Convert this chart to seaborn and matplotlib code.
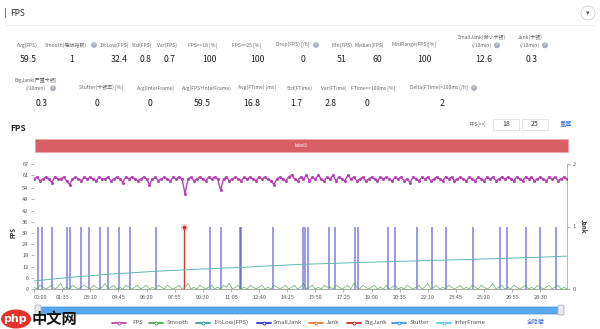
import numpy as np
import pandas as pd
import matplotlib
matplotlib.use("Agg")
import matplotlib.pyplot as plt
import seaborn as sns
from matplotlib.patches import Rectangle, FancyBboxPatch, Ellipse
from matplotlib.lines import Line2D

# ---------------- data ----------------
row1_labels = ["Avg(FPS)", "Smooth(稳帧指数)", "1%Low(FPS)", "Std(FPS)", "Var(FPS)",
               "FPS>=18 [%]", "FPS>=25 [%]", "Drop(FPS) [/h]", "Min(FPS)", "Median(FPS)",
               "MedRange(FPS)[%]", "SmallJank(微小卡顿)\n(/10min)", "Jank(卡顿)\n(/10min)"]
row1_values = ["59.5", "1", "32.4", "0.8", "0.7", "100", "100", "0", "51", "60", "100", "12.6", "0.3"]

row2_labels = ["BigJank(严重卡顿)\n(/10min)", "Stutter(卡顿率) [%]", "Avg(InterFrame)",
               "Avg(FPS+InterFrame)", "Avg(FTime) [ms]", "Std(FTime)", "Var(FTime)",
               "FTime>=100ms [%]", "Delta(FTime)>100ms [/h]"]
row2_values = ["0.3", "0", "0", "59.5", "16.8", "1.7", "2.8", "0", "2"]

fps_values = [
    59, 60, 58, 59, 60, 59, 57, 60, 59, 59, 60, 58, 56, 59, 60, 59, 58, 60, 59, 60,
    59, 58, 60, 59, 59, 60, 58, 59, 60, 59, 57, 60, 59, 60, 59, 58, 59, 60, 59, 56,
    59, 60, 58, 59, 60, 59, 58, 60, 59, 60, 59, 51, 59, 60, 58, 59, 60, 59, 58, 60,
    59, 60, 59, 53, 59, 60, 58, 59, 60, 59, 58, 60, 59, 60, 59, 58, 60, 59, 60, 59,
    58, 56, 59, 60, 59, 58, 60, 61, 59, 58, 60, 59, 61, 58, 60, 59, 61, 59, 58, 60,
    59, 61, 58, 60, 59, 58, 61, 59, 60, 58, 59, 60, 58, 59, 60, 59, 58, 60, 59, 60,
    59, 58, 60, 59, 60, 58, 59, 57, 60, 59, 58, 60, 59, 60, 58, 59, 60, 59, 58, 60,
    59, 60, 58, 59, 60, 59, 58, 60, 59, 58, 60, 59, 58, 60, 59, 60, 58, 59, 60, 59,
    60, 59, 58, 60, 59, 58, 60, 59, 60, 58, 59, 60, 59, 58, 60, 59, 60, 58, 59, 60, 59,
]
fps_time = list(range(0, 1810, 10))

smooth_values = [
    1, 0, 2, 1, 0, 1, 2, 0, 1, 3, 0, 1, 0, 2, 1, 0, 1, 2, 1, 0,
    2, 1, 0, 1, 3, 0, 1, 2, 0, 1, 0, 2, 1, 0, 1, 2, 0, 1, 2, 0,
    1, 0, 2, 1, 0, 2, 1, 0, 1, 2, 0, 1, 3, 0, 1, 0, 2, 1, 0, 1,
    2, 0, 1, 0, 2, 1, 3, 0, 1, 2, 0, 1, 0, 2, 1, 0, 1, 2, 0, 1,
    0, 2, 1, 0, 1, 2, 0, 1, 2, 0, 1, 3, 0, 1, 2, 0, 1, 0, 2, 1,
    1, 0, 2, 1, 0, 1, 2, 0, 3, 1, 0, 2, 1, 0, 1, 2, 0, 1, 0, 2,
    0, 1, 2, 0, 1, 0, 2, 1, 0, 1, 2, 0, 1, 3, 0, 1, 2, 0, 1, 0,
    2, 1, 0, 1, 2, 0, 1, 0, 2, 1, 0, 2, 1, 0, 1, 3, 0, 1, 2, 0,
    1, 0, 2, 1, 0, 1, 2, 0, 1, 0, 2, 1, 0, 1, 2, 0, 1, 2, 0, 1, 0,
]

lowpct_time = [0, 60, 150, 250, 400, 550, 700, 900, 1100, 1300, 1500, 1700, 1800]
lowpct_values = [4.3, 5.3, 6.6, 7.9, 9.4, 10.6, 11.6, 13.2, 14.2, 15.1, 16.0, 17.0, 17.6]

smalljank_time = [13, 28, 61, 112, 120, 158, 187, 223, 249, 288, 325, 411, 595, 633,
                  694, 699, 806, 910, 915, 926, 996, 1017, 1084, 1095, 1196, 1219,
                  1292, 1343, 1393, 1481, 1573, 1597, 1663, 1708, 1762]
smalljank_values = [1] * len(smalljank_time)

bigjank_time = [507]
bigjank_values = [1]

jank_time = [0, 1800]
jank_values = [0, 0]

xtick_secs = [0, 95, 190, 285, 380, 475, 570, 665, 760, 855, 950, 1045, 1140, 1235,
              1330, 1425, 1520, 1615, 1710]
xtick_labels = ["00:00", "01:35", "03:10", "04:45", "06:20", "07:55", "09:30", "11:05",
                "12:40", "14:15", "15:50", "17:25", "19:00", "20:35", "22:10", "23:45",
                "25:20", "26:55", "28:30"]
ytick_vals = [0, 6, 12, 18, 24, 30, 36, 42, 48, 54, 61, 67]

legend_names = ["FPS", "Smooth", "1%Low(FPS)", "SmallJank", "Jank", "BigJank", "Stutter", "InterFrame"]
legend_colors = ["#b443b4", "#4fa64f", "#3f9f9a", "#3434cc", "#ee7d2c", "#c8332c", "#3f8ef0", "#5cc6df"]

# ---------------- figure ----------------
sns.set_theme(style="white")
plt.rcParams['font.family'] = ['Noto Sans CJK SC', 'DejaVu Sans']

W, H = 600, 329
fig = plt.figure(figsize=(6, 3.29), dpi=100)
fig.patch.set_facecolor("white")


def fx(px):
    return px / W


def fy(py):
    return 1 - py / H


def ftext(x, y, s, **kw):
    kw.setdefault("ha", "center")
    kw.setdefault("va", "center")
    return fig.text(fx(x), fy(y), s, **kw)


def qicon(x, y):
    fig.text(fx(x), fy(y), "?", fontsize=2.6, color="white", ha="center", va="center",
             fontweight="bold",
             bbox=dict(boxstyle="circle,pad=0.25", fc="#a7afbf", ec="none"))


def label(x, y, s, gap):
    lines = s.split("\n")
    if len(lines) == 1:
        ftext(x, y, s, fontsize=3.6, color="#666")
    else:
        ftext(x, y - gap, lines[0], fontsize=3.6, color="#666")
        ftext(x, y, lines[1], fontsize=3.6, color="#666")


# header
fig.patches.append(Rectangle((fx(5), fy(18)), fx(1.4), fy(8) - fy(18), transform=fig.transFigure,
                             fc="#3a7bea", ec="none"))
ftext(10, 13, "FPS", ha="left", fontsize=6, color="#333")
fig.add_artist(Line2D([fx(5), fx(595)], [fy(25), fy(25)], color="#e6e8ec", lw=0.6))
fig.patches.append(Ellipse((fx(588), fy(13)), fx(14), 14 / H, transform=fig.transFigure,
                           fc="white", ec="#c8ccd4", lw=0.6))
ftext(588, 13, "▾", fontsize=5, color="#555")

# stats row 1
lab1_x = [27, 66, 114, 142, 167, 203, 247, 293, 342, 369, 414, 482, 530]
val1_x = [28, 72, 119, 146, 170, 209, 257, 303, 342, 377, 424, 484, 532]
for lab, x in zip(row1_labels, lab1_x):
    label(x, 45, lab, 8)
for val, x in zip(row1_values, val1_x):
    ftext(x, 60, val, fontsize=6.3, color="#222", fontweight="medium")
for x, y in [(94, 45), (316, 45), (497, 45.3), (545, 45.3)]:
    qicon(x, y)

# stats row 2
lab2_x = [36, 101, 156, 207, 257, 300, 334, 373, 439]
val2_x = [42, 97, 150, 202, 252, 296, 331, 367, 442]
for lab, x in zip(row2_labels, lab2_x):
    label(x, 88, lab, 7.5)
for val, x in zip(row2_values, val2_x):
    ftext(x, 103, val, fontsize=6.3, color="#222", fontweight="medium")
for x, y in [(53, 88.3), (474, 88)]:
    qicon(x, y)

# chart header
ftext(10, 128, "FPS", ha="left", fontsize=6, color="#222", fontweight="bold")
ftext(470, 124, "FPS(>=)", ha="left", fontsize=3.4, color="#555")
for x0, x1, s in [(493, 519, "18"), (522, 548, "25")]:
    fig.patches.append(Rectangle((fx(x0), fy(130)), fx(x1 - x0), fy(119) - fy(130),
                                 transform=fig.transFigure, fc="white", ec="#d6d9de", lw=0.5))
    ftext((x0 + x1) / 2, 124.5, s, fontsize=5, color="#333")
ftext(560, 124, "重置", ha="left", fontsize=4.5, color="#3a6fd8")

# red label band
fig.patches.append(Rectangle((fx(35), fy(152)), fx(568 - 35), fy(139) - fy(152),
                             transform=fig.transFigure, fc="#d95f67", ec="#e8a0a5", lw=0.4))
ftext(301, 145.5, "label1", fontsize=3.4, color="white")

# main plot
ax = fig.add_axes([fx(34), fy(289), fx(567) - fx(34), fy(164) - fy(289)])
ax2 = ax.twinx()

df_fps = pd.DataFrame({"t": fps_time, "fps": fps_values, "smooth": smooth_values})
df_low = pd.DataFrame({"t": lowpct_time, "v": lowpct_values})
df_jank = pd.DataFrame({"t": jank_time, "v": jank_values})

sns.lineplot(data=df_fps, x="t", y="smooth", ax=ax, color=legend_colors[1], lw=0.6, alpha=0.75)
sns.lineplot(data=df_low, x="t", y="v", ax=ax, color="#62b5b2", lw=0.7)

ax2.vlines(smalljank_time, 0, smalljank_values, color="#4848da", lw=1.1, alpha=0.7)
ax2.vlines(bigjank_time, 0, bigjank_values, color="#d23a30", lw=1.0)
ax2.scatter(bigjank_time, bigjank_values, s=28, color="#e05050", alpha=0.3, lw=0, zorder=5)
ax2.scatter(bigjank_time, bigjank_values, s=6, color="#d02a20", lw=0, zorder=6)
sns.lineplot(data=df_jank, x="t", y="v", ax=ax2, color="#c86a30", lw=0.8)

sns.lineplot(data=df_fps, x="t", y="fps", ax=ax, color=legend_colors[0], lw=1.0,
             marker="o", markersize=2.2, markeredgewidth=0)

ax.set_zorder(ax2.get_zorder() + 1)
ax.patch.set_visible(False)

ax.set_xlim(0, 1800)
ax.set_ylim(0, 67)
ax2.set_ylim(0, 2)
ax.set_xlabel("")
ax.set_ylabel("")
ax2.set_xlabel("")
ax2.set_ylabel("")
ax.set_xticks(xtick_secs)
ax.set_xticklabels(xtick_labels)
ax.get_xticklabels()[0].set_horizontalalignment("left")
ax.set_yticks(ytick_vals)
ax.set_yticklabels([str(v) for v in ytick_vals])
ax2.set_yticks([0, 1, 2])
ax.tick_params(axis="both", labelsize=4, colors="#999", labelcolor="#555", length=2.5, width=0.5, pad=1.5,
               left=True, bottom=True)
ax2.tick_params(axis="y", labelsize=4, colors="#999", labelcolor="#555", length=2.5, width=0.5, pad=1.5,
                right=True)
for s in ["top", "left", "right"]:
    ax.spines[s].set_visible(False)
ax.spines["bottom"].set_color("#999")
ax.spines["bottom"].set_linewidth(0.6)
for s in ["top", "left", "bottom"]:
    ax2.spines[s].set_visible(False)
ax2.spines["right"].set_color("#aaa")
ax2.spines["right"].set_linewidth(0.6)

ftext(13, 232, "FPS", rotation=90, fontsize=4.3, color="#333", fontweight="bold")
ftext(583, 226, "Jank", rotation=270, fontsize=4.3, color="#333", fontweight="bold")

# slider
fig.patches.append(FancyBboxPatch((fx(37), fy(314)), fx(562 - 37), fy(307) - fy(314),
                                  boxstyle="round,pad=0,rounding_size=0.004",
                                  transform=fig.transFigure, fc="#5aa9ee", ec="#3f8fe0", lw=0.5))
for hx in [38, 561]:
    fig.patches.append(FancyBboxPatch((fx(hx - 3), fy(315)), fx(6), fy(305) - fy(315),
                                      boxstyle="round,pad=0,rounding_size=0.003",
                                      transform=fig.transFigure, fc="#e6e8eb", ec="#a9aeb6", lw=0.5))

# legend
leg_mx = [119, 156, 203, 264, 316, 354, 399, 444]
leg_tx = [132, 167, 213, 273, 326, 364, 410, 454]
for name, col, mx, tx in zip(legend_names, legend_colors, leg_mx, leg_tx):
    fig.add_artist(Line2D([fx(mx - 7), fx(mx + 7)], [fy(322.5), fy(322.5)], color=col, lw=1.3))
    fig.add_artist(Line2D([fx(mx)], [fy(322.5)], color=col, marker="o", markersize=2.2,
                          markerfacecolor="white", markeredgecolor=col, markeredgewidth=0.7, lw=0))
    ftext(tx, 322.5, name, ha="left", fontsize=4.3, color="#555")
ftext(527, 322.5, "全隐藏", ha="left", fontsize=4.3, color="#3a6fd8")

# watermark
fig.patches.append(Ellipse((fx(16), fy(319)), fx(30), 19 / H, transform=fig.transFigure,
                           fc="#e3322b", ec="none"))
ftext(15, 318.5, "php", fontsize=8, color="white", fontweight="bold", family=["DejaVu Sans"])
ftext(32, 319, "中文网", ha="left", fontsize=11, color="#111", fontweight="bold")

fig.savefig("out.png", dpi=100)
